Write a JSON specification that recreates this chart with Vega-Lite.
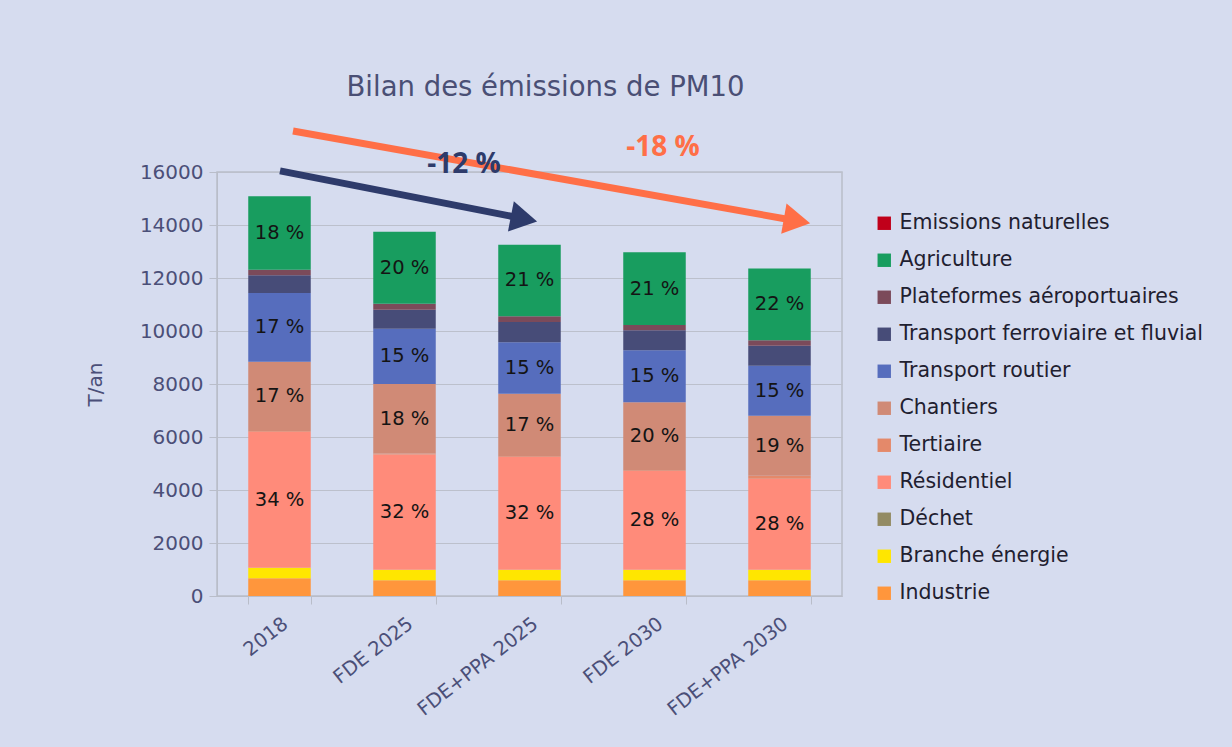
{
  "$schema": "https://vega.github.io/schema/vega-lite/v6.json",
  "autosize": "none",
  "width": 625,
  "height": 424,
  "padding": {"left": 217, "top": 172, "right": 390, "bottom": 151},
  "background": "#d6dcef",
  "title": {
    "text": "Bilan des émissions de PM10",
    "font": "DejaVu Sans",
    "fontSize": 27.5,
    "fontWeight": "normal",
    "color": "#4a4f75",
    "anchor": "middle",
    "dx": 16,
    "offset": 26
  },
  "config": {
    "view": {"stroke": "#b9bdc9", "strokeWidth": 1.5},
    "axis": {
      "labelFont": "DejaVu Sans",
      "labelColor": "#4b4f78",
      "titleFont": "DejaVu Sans",
      "titleColor": "#4b4f78",
      "domainColor": "#b9bdc9",
      "tickColor": "#b9bdc9",
      "gridColor": "#bcc0cc"
    }
  },
  "datasets": {
    "emissions": [
      {"scenario": "2018", "sector": "Industrie", "value": 667, "pct": ""},
      {"scenario": "2018", "sector": "Branche énergie", "value": 400, "pct": ""},
      {"scenario": "2018", "sector": "Déchet", "value": 0, "pct": ""},
      {"scenario": "2018", "sector": "Résidentiel", "value": 5130, "pct": "34 %"},
      {"scenario": "2018", "sector": "Tertiaire", "value": 30, "pct": ""},
      {"scenario": "2018", "sector": "Chantiers", "value": 2617, "pct": "17 %"},
      {"scenario": "2018", "sector": "Transport routier", "value": 2591, "pct": "17 %"},
      {"scenario": "2018", "sector": "Transport ferroviaire et fluvial", "value": 667, "pct": ""},
      {"scenario": "2018", "sector": "Plateformes aéroportuaires", "value": 214, "pct": ""},
      {"scenario": "2018", "sector": "Agriculture", "value": 2767, "pct": "18 %"},
      {"scenario": "2018", "sector": "Emissions naturelles", "value": 0, "pct": ""},
      {"scenario": "FDE 2025", "sector": "Industrie", "value": 591, "pct": ""},
      {"scenario": "FDE 2025", "sector": "Branche énergie", "value": 403, "pct": ""},
      {"scenario": "FDE 2025", "sector": "Déchet", "value": 0, "pct": ""},
      {"scenario": "FDE 2025", "sector": "Résidentiel", "value": 4350, "pct": "32 %"},
      {"scenario": "FDE 2025", "sector": "Tertiaire", "value": 30, "pct": ""},
      {"scenario": "FDE 2025", "sector": "Chantiers", "value": 2627, "pct": "18 %"},
      {"scenario": "FDE 2025", "sector": "Transport routier", "value": 2088, "pct": "15 %"},
      {"scenario": "FDE 2025", "sector": "Transport ferroviaire et fluvial", "value": 717, "pct": ""},
      {"scenario": "FDE 2025", "sector": "Plateformes aéroportuaires", "value": 227, "pct": ""},
      {"scenario": "FDE 2025", "sector": "Agriculture", "value": 2717, "pct": "20 %"},
      {"scenario": "FDE 2025", "sector": "Emissions naturelles", "value": 0, "pct": ""},
      {"scenario": "FDE+PPA 2025", "sector": "Industrie", "value": 591, "pct": ""},
      {"scenario": "FDE+PPA 2025", "sector": "Branche énergie", "value": 403, "pct": ""},
      {"scenario": "FDE+PPA 2025", "sector": "Déchet", "value": 0, "pct": ""},
      {"scenario": "FDE+PPA 2025", "sector": "Résidentiel", "value": 4247, "pct": "32 %"},
      {"scenario": "FDE+PPA 2025", "sector": "Tertiaire", "value": 30, "pct": ""},
      {"scenario": "FDE+PPA 2025", "sector": "Chantiers", "value": 2365, "pct": "17 %"},
      {"scenario": "FDE+PPA 2025", "sector": "Transport routier", "value": 1937, "pct": "15 %"},
      {"scenario": "FDE+PPA 2025", "sector": "Transport ferroviaire et fluvial", "value": 768, "pct": ""},
      {"scenario": "FDE+PPA 2025", "sector": "Plateformes aéroportuaires", "value": 214, "pct": ""},
      {"scenario": "FDE+PPA 2025", "sector": "Agriculture", "value": 2704, "pct": "21 %"},
      {"scenario": "FDE+PPA 2025", "sector": "Emissions naturelles", "value": 0, "pct": ""},
      {"scenario": "FDE 2030", "sector": "Industrie", "value": 591, "pct": ""},
      {"scenario": "FDE 2030", "sector": "Branche énergie", "value": 403, "pct": ""},
      {"scenario": "FDE 2030", "sector": "Déchet", "value": 0, "pct": ""},
      {"scenario": "FDE 2030", "sector": "Résidentiel", "value": 3719, "pct": "28 %"},
      {"scenario": "FDE 2030", "sector": "Tertiaire", "value": 30, "pct": ""},
      {"scenario": "FDE 2030", "sector": "Chantiers", "value": 2566, "pct": "20 %"},
      {"scenario": "FDE 2030", "sector": "Transport routier", "value": 1963, "pct": "15 %"},
      {"scenario": "FDE 2030", "sector": "Transport ferroviaire et fluvial", "value": 754, "pct": ""},
      {"scenario": "FDE 2030", "sector": "Plateformes aéroportuaires", "value": 202, "pct": ""},
      {"scenario": "FDE 2030", "sector": "Agriculture", "value": 2742, "pct": "21 %"},
      {"scenario": "FDE 2030", "sector": "Emissions naturelles", "value": 0, "pct": ""},
      {"scenario": "FDE+PPA 2030", "sector": "Industrie", "value": 591, "pct": ""},
      {"scenario": "FDE+PPA 2030", "sector": "Branche énergie", "value": 403, "pct": ""},
      {"scenario": "FDE+PPA 2030", "sector": "Déchet", "value": 0, "pct": ""},
      {"scenario": "FDE+PPA 2030", "sector": "Résidentiel", "value": 3434, "pct": "28 %"},
      {"scenario": "FDE+PPA 2030", "sector": "Tertiaire", "value": 113, "pct": ""},
      {"scenario": "FDE+PPA 2030", "sector": "Chantiers", "value": 2265, "pct": "19 %"},
      {"scenario": "FDE+PPA 2030", "sector": "Transport routier", "value": 1887, "pct": "15 %"},
      {"scenario": "FDE+PPA 2030", "sector": "Transport ferroviaire et fluvial", "value": 755, "pct": ""},
      {"scenario": "FDE+PPA 2030", "sector": "Plateformes aéroportuaires", "value": 201, "pct": ""},
      {"scenario": "FDE+PPA 2030", "sector": "Agriculture", "value": 2705, "pct": "22 %"},
      {"scenario": "FDE+PPA 2030", "sector": "Emissions naturelles", "value": 0, "pct": ""}
    ]
  },
  "layer": [
    {
      "data": {"name": "emissions"},
      "transform": [
        {"stack": "value", "groupby": ["scenario"], "as": ["v0", "v1"]},
        {"calculate": "(datum.v0 + datum.v1) / 2", "as": "mid"}
      ],
      "encoding": {
        "x": {
          "field": "scenario",
          "type": "nominal",
          "sort": null,
          "scale": {"paddingInner": 0.5, "paddingOuter": 0.25},
          "axis": {
            "title": null,
            "labelAngle": -38,
            "labelFontSize": 19.5,
            "labelPadding": 10,
            "tickBand": "extent",
            "tickSize": 8,
            "grid": false
          }
        }
      },
      "layer": [
        {
          "mark": {"type": "bar"},
          "encoding": {
            "y": {
              "field": "v0",
              "type": "quantitative",
              "scale": {"domain": [0, 16000], "nice": false},
              "axis": {
                "title": "T/an",
                "titleFontSize": 20,
                "titleFontWeight": "normal",
                "titlePadding": 34,
                "labelFontSize": 20,
                "labelPadding": 6,
                "tickSize": 8,
                "format": "d",
                "values": [0, 2000, 4000, 6000, 8000, 10000, 12000, 14000, 16000]
              }
            },
            "y2": {"field": "v1"},
            "color": {
              "field": "sector",
              "type": "nominal",
              "scale": {
                "domain": ["Emissions naturelles", "Agriculture", "Plateformes aéroportuaires", "Transport ferroviaire et fluvial", "Transport routier", "Chantiers", "Tertiaire", "Résidentiel", "Déchet", "Branche énergie", "Industrie"],
                "range": ["#c0001a", "#189d5f", "#7b4a5a", "#474c78", "#566dbd", "#d08a76", "#e4896a", "#ff8b7a", "#938b64", "#ffe600", "#ff963c"]
              },
              "legend": {
                "title": null,
                "orient": "none",
                "legendX": 657,
                "legendY": 41,
                "symbolType": "square",
                "symbolSize": 180,
                "symbolStrokeWidth": 0,
                "labelFont": "DejaVu Sans",
                "labelFontSize": 20.5,
                "labelColor": "#1f2030",
                "labelLimit": 400,
                "labelOffset": 5,
                "rowPadding": 16
              }
            }
          }
        },
        {
          "transform": [{"filter": "datum.pct != ''"}],
          "mark": {"type": "text", "font": "DejaVu Sans", "fontSize": 19.5, "color": "#141414", "baseline": "middle"},
          "encoding": {
            "y": {"field": "mid", "type": "quantitative"},
            "text": {"field": "pct"}
          }
        }
      ]
    },
    {
      "encoding": {
        "x": {"field": "x", "type": "quantitative", "scale": {"domain": [0, 5], "nice": false}, "axis": null},
        "y": {"field": "y", "type": "quantitative"}
      },
      "layer": [
        {
          "data": {"values": [{"x": 0.504, "y": 16040, "x2": 2.44, "y2": 14250}]},
          "mark": {"type": "rule", "color": "#2e3b6b", "strokeWidth": 7},
          "encoding": {"x2": {"field": "x2"}, "y2": {"field": "y2"}}
        },
        {
          "data": {"values": [{"x": 2.456, "y": 14228}]},
          "mark": {"type": "point", "shape": "triangle-right", "filled": true, "color": "#2e3b6b", "opacity": 1, "size": 950, "angle": 11}
        },
        {
          "data": {"values": [{"x": 0.608, "y": 17549, "x2": 4.62, "y2": 14170}]},
          "mark": {"type": "rule", "color": "#ff6f47", "strokeWidth": 7},
          "encoding": {"x2": {"field": "x2"}, "y2": {"field": "y2"}}
        },
        {
          "data": {"values": [{"x": 4.64, "y": 14151}]},
          "mark": {"type": "point", "shape": "triangle-right", "filled": true, "color": "#ff6f47", "opacity": 1, "size": 950, "angle": 10}
        },
        {
          "data": {"values": [{"x": 1.976, "y": 16266, "label": "-12 %"}]},
          "mark": {"type": "text", "font": "Open Sans", "fontSize": 28, "fontWeight": "bold", "color": "#2e3b6b", "baseline": "middle"},
          "encoding": {"text": {"field": "label"}}
        },
        {
          "data": {"values": [{"x": 3.568, "y": 16907, "label": "-18 %"}]},
          "mark": {"type": "text", "font": "Open Sans", "fontSize": 28, "fontWeight": "bold", "color": "#ff6f47", "baseline": "middle"},
          "encoding": {"text": {"field": "label"}}
        }
      ]
    }
  ],
  "resolve": {"scale": {"x": "independent"}}
}
